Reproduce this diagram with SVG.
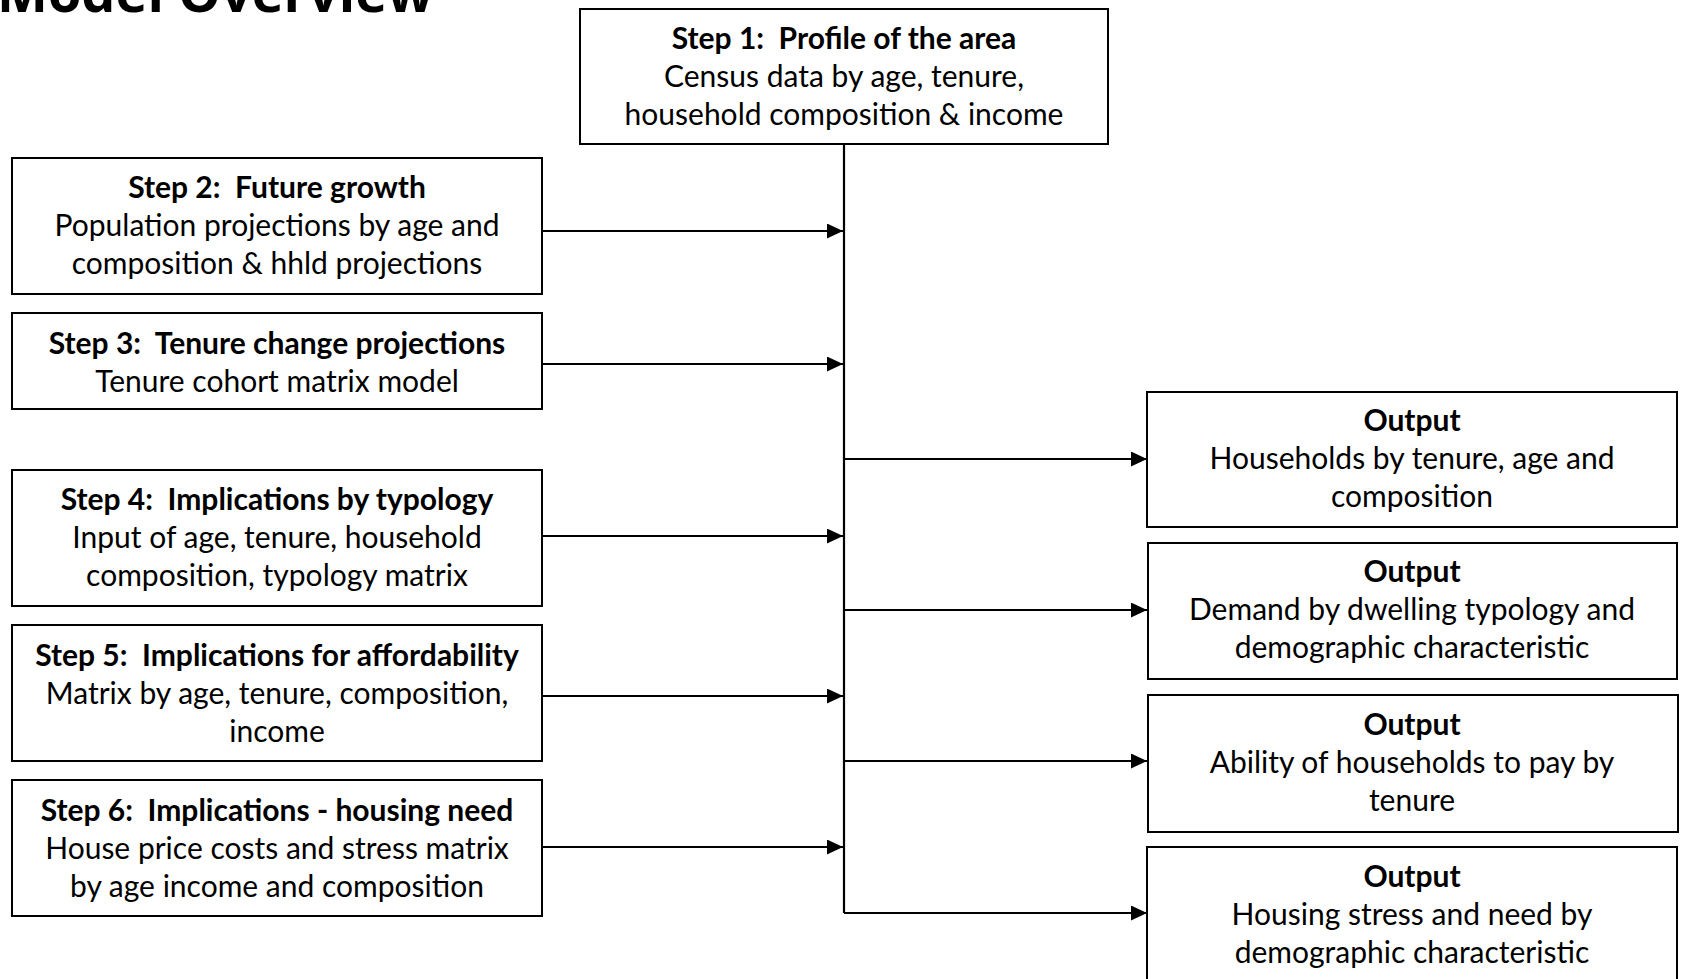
<svg xmlns="http://www.w3.org/2000/svg" width="1683" height="979" viewBox="0 0 1683 979">
<defs>
<marker id="arr" markerWidth="16" markerHeight="15" refX="16" refY="7.5" orient="auto" markerUnits="userSpaceOnUse">
<path d="M0,0 L16,7.5 L0,15 Z" fill="#000"/>
</marker>
<style>
.box{fill:#fff;stroke:#000;stroke-width:2}
.t{font-family:"Lato","Open Sans",sans-serif;font-size:30px;fill:#000;text-anchor:middle}
.b{font-weight:bold}
.c{fill:none;stroke:#000;stroke-width:2.2}
.title{font-family:"Open Sans","DejaVu Sans",sans-serif;font-size:54px;font-weight:bold;fill:#000}
</style>
</defs>
<rect width="1683" height="979" fill="#fff"/>
<text class="title" x="-3" y="12">Model Overview</text>

<g id="connectors">
<path class="c" d="M844,144 V913"/>
<path class="c" d="M542,231 H843" marker-end="url(#arr)"/>
<path class="c" d="M542,364 H843" marker-end="url(#arr)"/>
<path class="c" d="M542,536 H843" marker-end="url(#arr)"/>
<path class="c" d="M542,696 H843" marker-end="url(#arr)"/>
<path class="c" d="M542,847 H843" marker-end="url(#arr)"/>
<path class="c" d="M844,459 H1147" marker-end="url(#arr)"/>
<path class="c" d="M844,610 H1147" marker-end="url(#arr)"/>
<path class="c" d="M844,761 H1147" marker-end="url(#arr)"/>
<path class="c" d="M844,913 H1147" marker-end="url(#arr)"/>
</g>

<g id="step1">
<rect class="box" x="580" y="9" width="528" height="135"/>
<text class="t b" x="844" y="49">Step 1:&#160; Profile of the area</text>
<text class="t" x="844" y="87">Census data by age, tenure,</text>
<text class="t" x="844" y="125">household composition &amp; income</text>
</g>
<g id="step2">
<rect class="box" x="12" y="158" width="530" height="136"/>
<text class="t b" x="277" y="198">Step 2:&#160; Future growth</text>
<text class="t" x="277" y="236">Population projections by age and</text>
<text class="t" x="277" y="274">composition &amp; hhld projections</text>
</g>
<g id="step3">
<rect class="box" x="12" y="313" width="530" height="96"/>
<text class="t b" x="277" y="354">Step 3:&#160; Tenure change projections</text>
<text class="t" x="277" y="392">Tenure cohort matrix model</text>
</g>
<g id="step4">
<rect class="box" x="12" y="470" width="530" height="136"/>
<text class="t b" x="277" y="510">Step 4:&#160; Implications by typology</text>
<text class="t" x="277" y="548">Input of age, tenure, household</text>
<text class="t" x="277" y="586">composition, typology matrix</text>
</g>
<g id="step5">
<rect class="box" x="12" y="625" width="530" height="136"/>
<text class="t b" x="277" y="666">Step 5:&#160; Implications for affordability</text>
<text class="t" x="277" y="704">Matrix by age, tenure, composition,</text>
<text class="t" x="277" y="742">income</text>
</g>
<g id="step6">
<rect class="box" x="12" y="780" width="530" height="136"/>
<text class="t b" x="277" y="821">Step 6:&#160; Implications - housing need</text>
<text class="t" x="277" y="859">House price costs and stress matrix</text>
<text class="t" x="277" y="897">by age income and composition</text>
</g>
<g id="out1">
<rect class="box" x="1147" y="392" width="530" height="135"/>
<text class="t b" x="1412" y="431">Output</text>
<text class="t" x="1412" y="469">Households by tenure, age and</text>
<text class="t" x="1412" y="507">composition</text>
</g>
<g id="out2">
<rect class="box" x="1148" y="543" width="529" height="136"/>
<text class="t b" x="1412" y="582">Output</text>
<text class="t" x="1412" y="620">Demand by dwelling typology and</text>
<text class="t" x="1412" y="658">demographic characteristic</text>
</g>
<g id="out3">
<rect class="box" x="1148" y="695" width="530" height="137"/>
<text class="t b" x="1412" y="735">Output</text>
<text class="t" x="1412" y="773">Ability of households to pay by</text>
<text class="t" x="1412" y="811">tenure</text>
</g>
<g id="out4">
<rect class="box" x="1147" y="847" width="530" height="140"/>
<text class="t b" x="1412" y="887">Output</text>
<text class="t" x="1412" y="925">Housing stress and need by</text>
<text class="t" x="1412" y="963">demographic characteristic</text>
</g>
</svg>
